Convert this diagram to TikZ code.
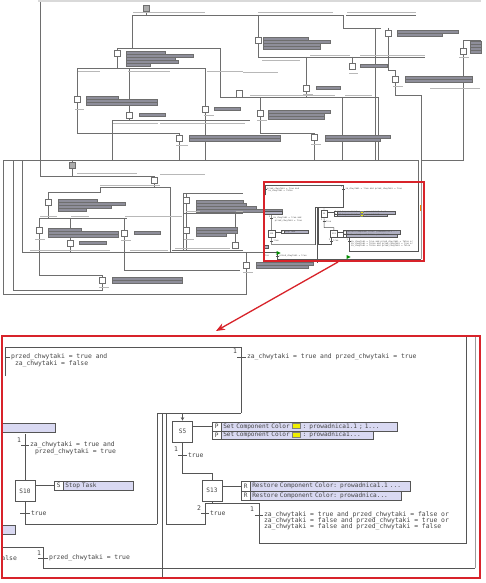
\documentclass[tikz,border=0pt]{standalone}
\usepackage{fontspec}
\newfontfamily\monofont{DejaVu Sans Mono}
\usetikzlibrary{arrows.meta}

\definecolor{wirecol}{HTML}{555555}
\definecolor{edgecol}{HTML}{9A9A9A}
\definecolor{txtcol}{HTML}{444444}
\definecolor{actfill}{HTML}{D9D9F2}
\definecolor{swatchyel}{HTML}{F0F000}
\definecolor{markred}{HTML}{D8232A}
\definecolor{ovline}{HTML}{6E6E6E}
\definecolor{ovbar}{HTML}{B8B8B8}
\definecolor{ovfill}{HTML}{8E8E9A}

\newcommand\sfctxt{\monofont\fontsize{6.4}{7}\selectfont}
\newcommand\sfcsmall{\monofont\fontsize{6.1}{7}\selectfont}
\newcommand\swatch{{\fboxsep=0pt\fboxrule=0.4pt\fcolorbox{gray}{swatchyel}{\rule{0pt}{4.5pt}\hspace{8pt}}}}

% the chart part that is shown enlarged (and again, small, in the thumbnail)
\newcommand\zoompanel{%
  % steps
  \node[stepbox] (s5) at (182.5,431.5) {S5};
  \node[stepbox] (s13) at (212,490.5) {S13};
  \node[stepbox] (s10) at (25,491) {S10};
  % actions
  \node[qual] (q5a) at (212,422) {P};
  \node[actbox, text width=172pt] (a5a) at (221,422) {Set Component Color \swatch{} : prowadnica1.1 ; 1...};
  \node[qual, minimum height=8pt] (q5b) at (212,431) {P};
  \node[actbox, minimum height=8pt, text width=148pt] (a5b) at (221,431) {Set Component Color \swatch{} : prowadnica1...};
  \node[qual, minimum height=10pt] (q13a) at (241,481) {R};
  \node[actbox, minimum height=10pt, text width=156pt] (a13a) at (250,481) {Restore Component Color: prowadnica1.1 ...};
  \node[qual] (q13b) at (241,491) {R};
  \node[actbox, text width=147pt] (a13b) at (250,491) {Restore Component Color: prowadnica...};
  \node[qual] (q10) at (54,481) {S};
  \node[actbox, text width=66pt] (a10) at (63,481) {Stop Task};
  \node[actbox, minimum width=53pt, inner xsep=0pt] (la) at (2,423) {};
  \node[actbox, minimum width=13pt, inner xsep=0pt] (lb) at (2,525) {};
  \draw[wire] (s5.east |- q5a.west) -- (q5a.west);
  \draw[wire] (s13.east |- q13a.west) -- (q13a.west);
  \draw[wire] (s10.east |- q10.west) -- (q10.west);
  % top transitions
  \draw[wire] (5,376) -- (5,347) -- (241,347) -- (241,413);
  \draw[wire] (5,357) -- (10,357);
  \node[cond] (tA) at (10,357) {przed\_chwytaki = true and};
  \node[cond] (tAb) at (14,364) {za\_chwytaki = false};
  \node[cond] (nB) at (232,351) {1};
  \draw[wire] (237,357) -- (246,357);
  \node[cond] (tB) at (246,357) {za\_chwytaki = true and przed\_chwytaki = true};
  % S5 and S13
  \coordinate (j5) at (182.5,413);
  \draw[wire] (157,524) -- (157,413) -- (241,413);
  \draw[wire] (162,413) -- (162,578);
  \draw[entry] (j5) -- (s5);
  \draw[wire] (s5) -- (182.5,473) -- (212,473) -- (s13);
  \draw[wire] (178,455) -- (187,455);
  \node[cond] (n5) at (173,449) {1};
  \node[cond] (t5) at (187,455) {true};
  \draw[wire] (s13) -- (212,503);
  \draw[wire] (166,413) -- (166,524) -- (205,524) -- (205,503) -- (259,503) -- (259,543) -- (466,543) -- (466,337);
  \draw[wire] (201,513) -- (209,513);
  \node[cond] (n13a) at (196,508) {2};
  \node[cond] (t13a) at (209,513) {true};
  \draw[wire] (255,515) -- (263,515);
  \node[cond] (n13b) at (249,509) {1};
  \node[cond] (t13b) at (263,515) {za\_chwytaki = true and przed\_chwytaki = false or};
  \node[cond] (t13c) at (263,521) {za\_chwytaki = false and przed\_chwytaki = true or};
  \node[cond] (t13d) at (263,527) {za\_chwytaki = false and przed\_chwytaki = false};
  % S10
  \draw[wire] (25,434) -- (s10);
  \draw[wire] (21,445) -- (29,445);
  \node[cond] (n10) at (16,440) {1};
  \node[cond] (t10a) at (29,445) {za\_chwytaki = true and};
  \node[cond] (t10b) at (34,452) {przed\_chwytaki = true};
  \draw[wire] (s10) -- (25,524) -- (157,524);
  \draw[wire] (20,513) -- (30,513);
  \node[cond] (t10c) at (30,513) {true};
  % loop back at the bottom
  \draw[wire] (2,547) -- (43,547) -- (43,568) -- (475,568);
  \draw[wire, draw=edgecol] (475,568) -- (475,337);
  \node[cond] (tF) at (0.5,558) {alse};
  \draw[wire] (38,558) -- (48,558);
  \node[cond] (n0) at (36,553) {1};
  \node[cond] (t0) at (48,558) {przed\_chwytaki = true};
}

\begin{document}
\begin{tikzpicture}[x=1pt, y=-1pt,
  wire/.style={draw=wirecol, line width=0.7pt},
  entry/.style={wire, -{Stealth[length=3.5pt, width=3.5pt]}},
  stepbox/.style={draw=wirecol, line width=0.7pt, fill=white, minimum width=20pt, minimum height=21pt, inner sep=0pt, font=\sfcsmall, text=txtcol},
  qual/.style={draw=wirecol, line width=0.5pt, fill=white, anchor=north west, minimum width=9pt, minimum height=9pt, inner sep=0pt, font=\sfcsmall, text=txtcol},
  actbox/.style={draw=wirecol, line width=0.5pt, fill=actfill, anchor=north west, minimum height=9pt, inner xsep=2pt, inner ysep=0pt, text height=4.4pt, text depth=1.2pt, font=\sfcsmall, text=txtcol},
  cond/.style={anchor=west, inner sep=0.8pt, font=\sfctxt, text=txtcol},
  ovwire/.style={draw=ovline, line width=0.4pt},
  ovtext/.style={draw=ovbar, line width=0.9pt},
  ovstep/.style={draw=ovline, line width=0.45pt, fill=white},
  ovact/.style={draw=ovline, line width=0.3pt, fill=ovfill},
  redline/.style={draw=markred, line width=1.3pt}
]
\useasboundingbox (0,0) rectangle (486,583);
\fill[white] (0,0) rectangle (486,583);

% thumbnail of the whole chart
\fill[gray!30] (38,0) rectangle (481,2.5);
\draw[ovwire] (40,2) -- (40,176) -- (154,176) -- (154,177);
\draw[ovwire] (132,48) -- (132,15) -- (343,15) -- (343,28) -- (381,28);
\draw[ovwire] (146,11.5) -- (146,15);
\draw[ovwire] (346,15) -- (416,15);
\draw[ovwire] (117,50) -- (117,48) -- (220,48) -- (220,97) -- (378,97) -- (378,160);
\draw[ovwire] (375,28) -- (375,160);
\draw[ovwire] (117,56.5) -- (117,68);
\draw[ovwire] (77,96) -- (77,68) -- (205,68) -- (205,106);
\draw[ovwire] (77,102.5) -- (77,133) -- (179,133) -- (179,135);
\draw[ovwire] (129,68) -- (129,112);
\draw[ovwire] (129,118.5) -- (129,120);
\draw[ovwire] (112,160) -- (112,120) -- (250,120);
\draw[ovwire] (179,141.5) -- (179,160);
\draw[ovwire] (205,112.5) -- (205,160);
\draw[ovwire] (258,15) -- (258,37);
\draw[ovwire] (258,43.5) -- (258,57) -- (425,57);
\draw[ovwire] (352,57) -- (352,63);
\draw[ovwire] (306,57) -- (306,85);
\draw[ovwire] (306,91.5) -- (306,97);
\draw[ovwire] (388,28) -- (388,30);
\draw[ovwire] (388,36.5) -- (388,70) -- (395,70) -- (395,76);
\draw[ovwire] (395,82.5) -- (395,95) -- (421.5,95) -- (421.5,182.5);
\draw[ovwire] (481,40) -- (463,40) -- (463,48);
\draw[ovwire] (463,54.5) -- (463,160) -- (421.5,160);
\draw[ovwire] (260,97) -- (260,110);
\draw[ovwire] (260,116.5) -- (260,133) -- (314,133) -- (314,134);
\draw[ovwire] (314,140.5) -- (314,160);
\draw[ovwire] (342,97) -- (342,160);
\draw[ovwire] (418.5,182.5) -- (418.5,160) -- (3,160) -- (3,294) -- (246,294) -- (246,268.5);
\draw[ovwire] (13,160) -- (13,290) -- (102,290) -- (102,283.5);
\draw[ovwire] (22,160) -- (22,252.3) -- (264,252.3);
\draw[ovwire] (246,252.3) -- (246,262);
\draw[ovwire] (72,160) -- (72,162);
\draw[ovwire] (72,168.5) -- (72,176);
\draw[ovwire] (154,183.5) -- (154,187);
\draw[ovwire] (48.5,199) -- (48.5,192) -- (100,192) -- (100,187) -- (170,187) -- (170,252.3);
\draw[ovwire] (48.5,205.5) -- (48.5,218);
\draw[ovwire] (39,227) -- (39,218) -- (127,218);
\draw[ovwire] (39,233.5) -- (39,275) -- (102,275) -- (102,277);
\draw[ovwire] (70.5,218) -- (70.5,240);
\draw[ovwire] (70.5,246.5) -- (70.5,252.3);
\draw[ovwire] (124,218) -- (124,230);
\draw[ovwire] (124,236.5) -- (124,270) -- (240,270);
\draw[ovwire] (183,250) -- (183,193) -- (243,193);
\draw[ovwire] (186.5,193) -- (186.5,197);
\draw[ovwire] (186.5,203.5) -- (186.5,227);
\draw[ovwire] (183,213) -- (243,213);
\draw[ovwire] (235.5,213) -- (235.5,242);
\draw[ovwire] (186.5,233.5) -- (186.5,250);
\draw[ovwire] (172,250) -- (243,250);
% thumbnail steps
\foreach \x/\y in {114/50, 74/96, 126/112, 202/106, 176/135, 236/90.5, 255/37, 349/63, 303/85, 385/30, 392/76, 460/48, 257/110, 311/134, 151/177, 45.5/199, 36/227, 67.5/240, 121/230, 99/277, 183.5/197, 183.5/227, 232.5/242, 243/262}
  \draw[ovstep] (\x,\y) rectangle ++(6,6.5);
\foreach \x/\y in {143/5, 69/162}
  \draw[ovstep, fill=gray!65] (\x,\y) rectangle ++(6,6.5);
% thumbnail actions
\foreach \x/\y/\ws in {126/51/{39,67,49,52,24}, 86/96/{32,71,71}, 139/113/{26}, 214/107/{26}, 189/135/{91,91}, 263/37/{45,67,57,57}, 360/64/{27}, 316/86/{24}, 397/30/{61,45}, 405/76/{67,67}, 470/41/{11,11,11,11}, 268/110/{62,56,56}, 325/135/{65,55}, 58/199/{39,67,53,28}, 48/228/{33,70,70}, 79/241/{27}, 134/231/{26}, 112/277/{70,70}, 196/200/{47,50,60,86}, 196/227/{41,41,30}, 256/262/{57,52}}
  \foreach \w [count=\i from 0] in \ws
    \draw[ovact] (\x,{\y+3*\i}) rectangle ++(\w,3);
% thumbnail texts
\foreach \a/\b/\y in {133/205/12.5, 258/333/12.5, 347/416/12.5, 78/100/71, 128/170/71, 207/243/71, 243/278/72, 75/84/109, 204/214/115, 176/188/145, 113/158/123, 160/245/123, 262/300/60, 310/350/55, 360/425/55, 349/358/73, 303/313/94, 250/335/95, 345/372/95, 459/469/57, 393/403/86, 430/480/88, 257/267/120, 311/321/144, 77/137/173, 160/205/174, 100/160/185, 40/57/216, 71/89/216, 125/182/216, 35/45/239, 121/131/240, 30/110/250, 130/168/250, 99/109/287, 184/194/239, 175/230/248, 186/200/211, 236/243/211, 243/253/272}
  \draw[ovtext] (\a,\y) -- (\b,\y);
% the enlarged part, as it sits in the thumbnail
\begin{scope}[shift={(263.3,70.1)}, scale=0.333, transform shape, name prefix=ov-,
  wire/.append style={line width=0.35pt}, entry/.style={wire},
  stepbox/.append style={line width=0.35pt}, qual/.append style={line width=0.25pt},
  actbox/.append style={line width=0.25pt, fill=ovfill!55!actfill}]
\zoompanel
\end{scope}
\fill[green!55!black] (276.5,251) -- (280.5,253) -- (276.5,255) -- cycle;
\fill[green!55!black] (346.5,255) -- (350.5,257) -- (346.5,259) -- cycle;
\draw[orange, line width=0.8pt] (420,205) -- (420,211);

% the enlarged part
\zoompanel

% zoom marks
\draw[redline] (264,182) rectangle (424,261);
\draw[redline, -{Stealth[length=9pt, width=7pt]}] (338,262) -- (216,331);
\draw[redline, line width=1.4pt] (2,336) rectangle (480,578);
\end{tikzpicture}
\end{document}
